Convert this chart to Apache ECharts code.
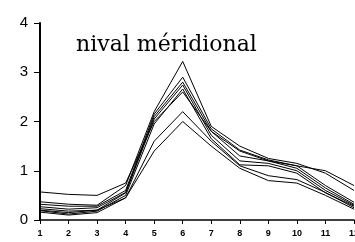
<!DOCTYPE html>
<html><head><meta charset="utf-8">
<script src="https://cdn.jsdelivr.net/npm/echarts@6/dist/echarts.min.js"></script>
<style>html,body{margin:0;padding:0;background:#fff}#c{width:355px;height:242px}</style>
</head><body><div id="c"></div>
<script>
const months = ['1','2','3','4','5','6','7','8','9','10','11','12'];
const yTicks = [0,1,2,3,4];
const titleText = 'nival méridional';
const s1 = [0.57,0.52,0.5,0.75,2.0,2.6,1.8,1.4,1.2,1.1,1.0,0.7];
const s2 = [0.37,0.32,0.3,0.7,2.2,3.22,1.9,1.5,1.25,1.15,0.95,0.6];
const s3 = [0.32,0.28,0.28,0.6,2.15,2.9,1.85,1.42,1.22,1.1,0.7,0.36];
const s4 = [0.27,0.22,0.25,0.56,2.1,2.8,1.8,1.3,1.2,1.05,0.65,0.32];
const s5 = [0.23,0.18,0.2,0.55,2.05,2.74,1.72,1.2,1.15,1.0,0.6,0.3];
const s6 = [0.19,0.12,0.18,0.5,1.95,2.66,1.65,1.12,1.1,0.95,0.55,0.28];
const s7 = [0.16,0.1,0.15,0.45,1.6,2.2,1.6,1.1,0.9,0.82,0.56,0.25];
const s8 = [0.2,0.15,0.2,0.45,1.4,2.0,1.5,1.05,0.8,0.75,0.5,0.22];
const seriesData = [s1,s2,s3,s4,s5,s6,s7,s8];

const chart = echarts.init(document.getElementById('c'));
chart.setOption({
  animation:false,
  backgroundColor:'#fff',
  title:{text:titleText,left:71,top:29,textStyle:{fontFamily:'DejaVu Serif',fontSize:22,fontWeight:'normal',color:'#000'}},
  grid:{left:40,right:1,top:23,bottom:22,containLabel:false,outerBoundsMode:'none'},
  xAxis:{type:'category',data:months,boundaryGap:false,
    axisLine:{lineStyle:{color:'#000',width:1.5}},
    axisTick:{show:true,length:4,lineStyle:{color:'#000'}},
    axisLabel:{color:'#000',fontSize:9,fontWeight:'bold',fontFamily:'Liberation Sans',margin:9,interval:0,showMaxLabel:true,showMinLabel:true,hideOverlap:false}},
  yAxis:{type:'value',min:0,max:4,interval:1,
    axisLine:{show:true,lineStyle:{color:'#000',width:2}},
    axisTick:{show:true,length:6,lineStyle:{color:'#000'}},
    splitLine:{show:false},
    axisLabel:{color:'#000',fontSize:15,fontFamily:'Liberation Sans',margin:12}},
  series: seriesData.map(d=>({type:'line',data:d,symbol:'none',lineStyle:{color:'#000',width:1},z:2}))
});
</script></body></html>
